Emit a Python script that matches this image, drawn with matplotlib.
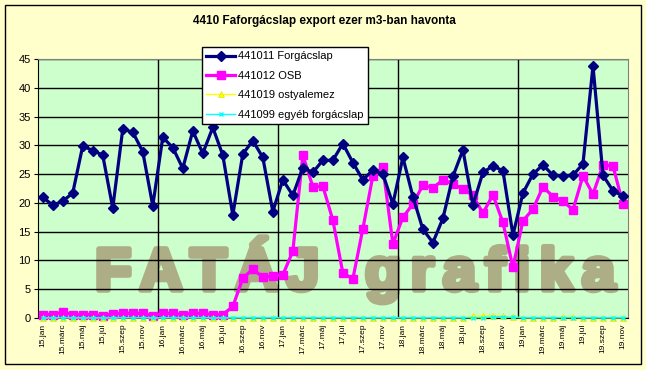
import matplotlib
matplotlib.use("Agg")
from matplotlib import pyplot as plt
from matplotlib.patches import Rectangle
from matplotlib import patheffects

plt.rcParams["font.family"] = ["Liberation Sans", "DejaVu Sans"]

years = ["15", "16", "17", "18", "19"]
months = ["jan", "febr", "márc", "ápr", "máj", "jún", "júl", "aug", "szep", "okt", "nov", "dec"]
categories = [f"{y}.{m}" for y in years for m in months][:59]

forgacslap = [21.0, 19.6, 20.3, 21.7, 29.9, 29.1, 28.3, 19.1, 32.8, 32.3, 28.9, 19.5,
              31.4, 29.6, 26.0, 32.5, 28.6, 33.1, 28.3, 17.9, 28.5, 30.8, 27.9, 18.5,
              24.0, 21.3, 26.1, 25.3, 27.4, 27.4, 30.3, 27.0, 24.0, 25.7, 25.0, 19.8,
              27.9, 21.1, 15.4, 13.1, 17.3, 24.6, 29.2, 19.6, 25.3, 26.4, 25.6, 14.4,
              21.7, 25.0, 26.6, 24.8, 24.7, 24.8, 26.8, 43.8, 24.8, 22.1, 21.2]
osb = [0.6, 0.6, 1.0, 0.6, 0.6, 0.6, 0.4, 0.7, 0.8, 0.8, 0.8, 0.4,
       0.8, 0.8, 0.6, 0.8, 0.8, 0.6, 0.6, 2.0, 6.9, 8.5, 7.1, 7.3,
       7.5, 11.6, 28.3, 22.8, 22.9, 17.0, 7.8, 6.8, 15.5, 24.7, 26.2, 12.9,
       17.5, 19.8, 23.1, 22.6, 24.0, 23.3, 22.4, 21.3, 18.2, 21.4, 16.6, 8.8,
       16.9, 18.9, 22.8, 21.1, 20.3, 18.8, 24.7, 21.5, 26.6, 26.4, 19.8]
ostyalemez = [0.05] * 43 + [0.3, 0.35, 0.35, 0.3, 0.2] + [0.05] * 4 + [0.15, 0.15] + [0.05] * 5
egyeb = [0.05] * 45 + [0.2, 0.2, 0.1] + [0.05] * 11

labels = ["441011 Forgácslap", "441012 OSB", "441019 ostyalemez", "441099 egyéb forgácslap"]

W, H = 646, 370
fig = plt.figure(figsize=(W / 100, H / 100), dpi=100, facecolor="#FFFFCC")
ax = fig.add_axes([37.7 / W, 1 - 318 / H, (628 - 37.7) / W, (318 - 59) / H])
ax.set_facecolor("#CCFFCC")

x = list(range(len(categories)))
ax.plot(x, forgacslap, color="#000080", lw=2.3, marker="D", ms=4.8, label=labels[0],
        zorder=6, clip_on=False)
ax.plot(x, osb, color="#FF00FF", lw=2.3, marker="s", ms=5.5, label=labels[1],
        zorder=5, clip_on=False)
ax.plot(x, ostyalemez, color="#FFFF00", lw=1, marker="^", ms=5, mec="#E6E600", mew=0.5,
        label=labels[2], zorder=7, clip_on=False)
ax.plot(x, egyeb, color="#00FFFF", lw=1, marker="x", ms=3.5, mew=1, label=labels[3],
        zorder=8, clip_on=False)

ax.set_xlim(-0.5, len(categories) - 0.5)
ax.set_ylim(0, 45)
ax.set_yticks(range(0, 46, 5))
ax.set_xticks(x[::2])
ax.set_xticklabels(categories[::2], rotation=90, fontsize=6)
ax.set_xticks([11.5, 23.5, 35.5, 47.5], minor=True)
ax.tick_params(axis="x", which="both", length=0, pad=4)
ax.tick_params(axis="y", labelsize=8, length=3, pad=2)
ax.set_axisbelow(True)
ax.grid(axis="y", color="black", lw=1)
ax.grid(axis="x", which="minor", color="black", lw=1)
for s in ax.spines.values():
    s.set_color("#808080")
ax.spines["left"].set_color("black")
ax.spines["bottom"].set_color("black")

# watermark, letter by letter for the wide spacing
renderer = fig.canvas.get_renderer()
stroke = [patheffects.withStroke(linewidth=4, foreground="#ADAE86")]
for word, x0, gap in [("FATÁJ", 95, 8), ("grafika", 365, 9)]:
    px = x0
    for ch in word:
        t = ax.text(px / W, 1 - 290 / H, ch, transform=fig.transFigure, fontsize=43,
                    fontweight="bold", color="#ADAE86", ha="left", va="baseline",
                    zorder=0.1, path_effects=stroke)
        px += t.get_window_extent(renderer).width + gap

leg = ax.legend(loc="upper left", bbox_to_anchor=(202 / W, 1 - 47 / H),
                bbox_transform=fig.transFigure, fontsize=8, frameon=True, fancybox=False,
                edgecolor="black", facecolor="white", framealpha=1, handlelength=2.6,
                handletextpad=0.2, labelspacing=0.85, borderpad=0.4, borderaxespad=0)
leg.get_frame().set_linewidth(1)
leg.set_zorder(10)

fig.text(324 / W, 1 - 21 / H, "4410 Faforgácslap export ezer m3-ban havonta",
         fontsize=8.5, fontweight="bold", ha="center", va="center")

fig.patches.append(Rectangle((4.5 / W, 1 - 364 / H), (641 - 4.5) / W, (364 - 5) / H,
                             transform=fig.transFigure, fill=False, edgecolor="black", lw=1))

fig.savefig("out.png", dpi=100, facecolor=fig.get_facecolor())
